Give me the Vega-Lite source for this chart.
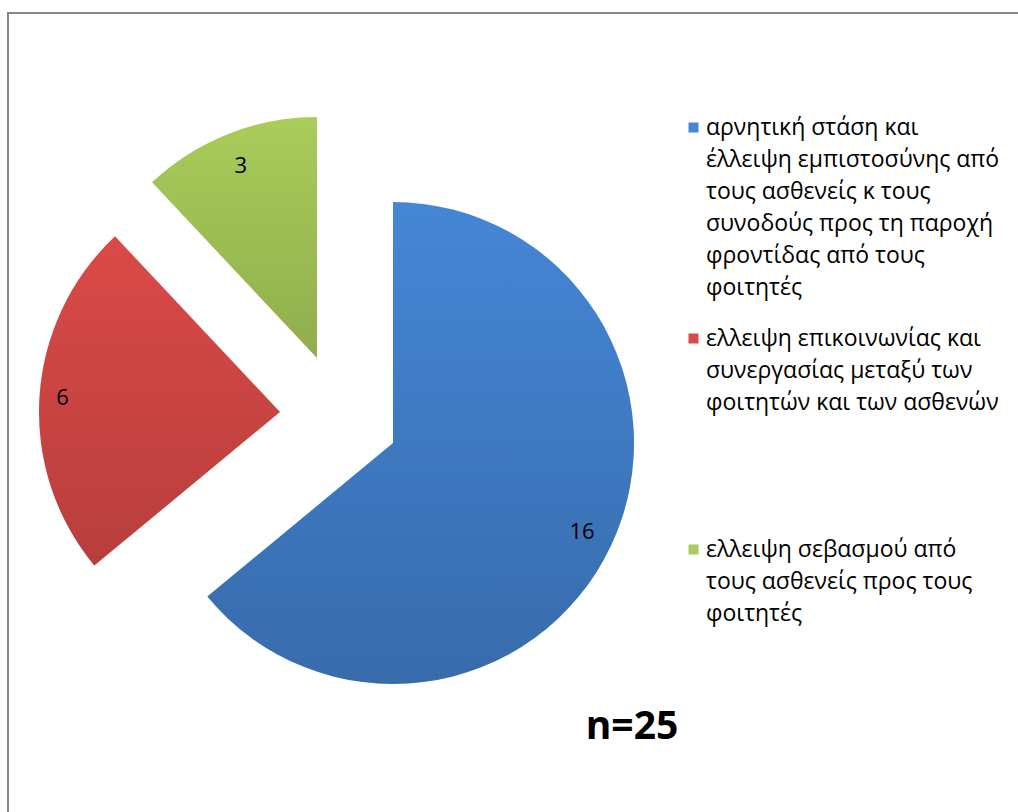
{
  "$schema": "https://vega.github.io/schema/vega-lite/v6.json",
  "width": 1010,
  "height": 799,
  "autosize": "none",
  "padding": {"left": 8, "top": 13, "right": 0, "bottom": 0},
  "background": "white",
  "view": {"stroke": "#868686", "strokeWidth": 2, "strokeDash": [1010, 1809, 799, 2], "strokeDashOffset": 0, "strokeCap": "butt"},
  "config": {
    "view": {"stroke": "#868686", "strokeWidth": 2, "strokeDash": [1010, 1809, 799, 2], "strokeDashOffset": 0, "strokeCap": "butt"},
    "style": {"guide-label": {"lineHeight": 32}}
  },
  "title": {
    "text": "n=25",
    "orient": "top",
    "anchor": "start",
    "frame": "group",
    "align": "center",
    "baseline": "middle",
    "offset": 0,
    "dx": 624,
    "dy": 753,
    "font": "Open Sans",
    "fontSize": 39,
    "fontWeight": "bold",
    "color": "black"
  },
  "data": {
    "values": [
      {"category": "αρνητική στάση και\nέλλειψη εμπιστοσύνης από\nτους ασθενείς κ τους\nσυνοδούς προς τη παροχή\nφροντίδας από τους\nφοιτητές", "value": 16, "order": 1},
      {"category": "ελλειψη επικοινωνίας και\nσυνεργασίας μεταξύ των\nφοιτητών και των ασθενών", "value": 6, "order": 2},
      {"category": "ελλειψη σεβασμού από\nτους ασθενείς προς τους\nφοιτητές", "value": 3, "order": 3}
    ]
  },
  "transform": [
    {"stack": "value", "groupby": [], "sort": [{"field": "order", "order": "ascending"}], "as": ["v0", "v1"]}
  ],
  "layer": [
    {
      "transform": [{"filter": "datum.order === 1"}],
      "mark": {"type": "arc", "outerRadius": 241, "xOffset": -120, "yOffset": 30.5},
      "encoding": {
        "theta": {"field": "v0", "type": "quantitative", "scale": {"domain": [0, 25], "range": [0, 6.283185307179586]}},
        "theta2": {"field": "v1"},
        "color": {
          "field": "category", "type": "nominal",
          "scale": {
            "domain": [
              "αρνητική στάση και\nέλλειψη εμπιστοσύνης από\nτους ασθενείς κ τους\nσυνοδούς προς τη παροχή\nφροντίδας από τους\nφοιτητές",
              "ελλειψη επικοινωνίας και\nσυνεργασίας μεταξύ των\nφοιτητών και των ασθενών",
              "ελλειψη σεβασμού από\nτους ασθενείς προς τους\nφοιτητές"
            ],
            "range": ["#4586d6", "#da4a48", "#a9cc5a"]
          },
          "legend": {
            "orient": "none",
            "legendX": 674,
            "legendY": 103,
            "title": null,
            "direction": "vertical",
            "columns": 1,
            "gridAlign": "all",
            "rowPadding": 27,
            "symbolType": "square",
            "symbolSize": 100,
            "symbolStrokeWidth": 0,
            "labelFont": "Open Sans",
            "labelFontSize": 23,
            "labelColor": "black",
            "labelLimit": 0,
            "labelOffset": 1,
            "labelExpr": "split(datum.label, '\\n')"
          }
        }
      }
    },
    {
      "transform": [{"filter": "datum.order === 2"}],
      "mark": {"type": "arc", "outerRadius": 241, "xOffset": -233, "yOffset": -0.5},
      "encoding": {
        "theta": {"field": "v0", "type": "quantitative"},
        "theta2": {"field": "v1"},
        "color": {"field": "category", "type": "nominal"}
      }
    },
    {
      "transform": [{"filter": "datum.order === 3"}],
      "mark": {"type": "arc", "outerRadius": 241, "xOffset": -196, "yOffset": -54.5},
      "encoding": {
        "theta": {"field": "v0", "type": "quantitative"},
        "theta2": {"field": "v1"},
        "color": {"field": "category", "type": "nominal"}
      }
    },
    {
      "transform": [{"filter": "datum.order === 1"}],
      "mark": {"type": "arc", "outerRadius": 241, "xOffset": -120, "yOffset": 30.5,
        "fill": {"gradient": "linear", "x1": 0, "y1": 0, "x2": 0, "y2": 1,
          "stops": [{"offset": 0, "color": "rgba(0,0,0,0)"}, {"offset": 1, "color": "rgba(0,0,0,0.2)"}]}},
      "encoding": {"theta": {"field": "v0", "type": "quantitative"}, "theta2": {"field": "v1"}}
    },
    {
      "transform": [{"filter": "datum.order === 2"}],
      "mark": {"type": "arc", "outerRadius": 241, "xOffset": -233, "yOffset": -0.5,
        "fill": {"gradient": "linear", "x1": 0, "y1": 0, "x2": 0, "y2": 1,
          "stops": [{"offset": 0, "color": "rgba(0,0,0,0)"}, {"offset": 1, "color": "rgba(0,0,0,0.16)"}]}},
      "encoding": {"theta": {"field": "v0", "type": "quantitative"}, "theta2": {"field": "v1"}}
    },
    {
      "transform": [{"filter": "datum.order === 3"}],
      "mark": {"type": "arc", "outerRadius": 241, "xOffset": -196, "yOffset": -54.5,
        "fill": {"gradient": "linear", "x1": 0, "y1": 0, "x2": 0, "y2": 1,
          "stops": [{"offset": 0, "color": "rgba(0,0,0,0)"}, {"offset": 1, "color": "rgba(0,0,0,0.15)"}]}},
      "encoding": {"theta": {"field": "v0", "type": "quantitative"}, "theta2": {"field": "v1"}}
    },
    {
      "mark": {"type": "text", "radius": 209, "xOffset": -120, "yOffset": 30.5, "font": "Open Sans", "fontSize": 22, "color": "black", "align": "center", "baseline": "middle"},
      "encoding": {
        "theta": {"field": "value", "type": "quantitative", "stack": true},
        "order": {"field": "order"},
        "detail": {"field": "category"},
        "text": {"condition": {"test": "datum.order === 1", "field": "value", "type": "quantitative"}, "value": ""}
      }
    },
    {
      "mark": {"type": "text", "radius": 218, "xOffset": -233, "yOffset": -0.5, "font": "Open Sans", "fontSize": 22, "color": "black", "align": "center", "baseline": "middle"},
      "encoding": {
        "theta": {"field": "value", "type": "quantitative", "stack": true},
        "order": {"field": "order"},
        "detail": {"field": "category"},
        "text": {"condition": {"test": "datum.order === 2", "field": "value", "type": "quantitative"}, "value": ""}
      }
    },
    {
      "mark": {"type": "text", "radius": 207, "xOffset": -196, "yOffset": -54.5, "font": "Open Sans", "fontSize": 22, "color": "black", "align": "center", "baseline": "middle"},
      "encoding": {
        "theta": {"field": "value", "type": "quantitative", "stack": true},
        "order": {"field": "order"},
        "detail": {"field": "category"},
        "text": {"condition": {"test": "datum.order === 3", "field": "value", "type": "quantitative"}, "value": ""}
      }
    }
  ]
}
